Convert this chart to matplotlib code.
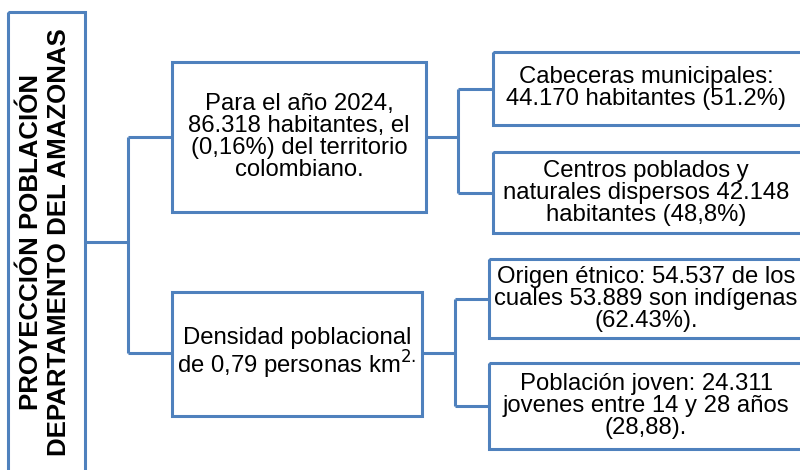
import matplotlib.pyplot as plt
from matplotlib.patches import Rectangle

plt.rcParams['font.family'] = ['Liberation Sans', 'DejaVu Sans']

title_lines = ["PROYECCIÓN POBLACIÓN", "DEPARTAMENTO DEL AMAZONAS"]
mid_texts = [
    "Para el año 2024,\n86.318 habitantes, el\n(0,16%) del territorio\ncolombiano.",
    "Densidad poblacional\nde 0,79 personas km$^{2.}$",
]
right_texts = [
    "Cabeceras municipales:\n44.170 habitantes (51.2%)",
    "Centros poblados y\nnaturales dispersos 42.148\nhabitantes (48,8%)",
    "Origen étnico: 54.537 de los\ncuales 53.889 son indígenas\n(62.43%).",
    "Población joven: 24.311\njovenes entre 14 y 28 años\n(28,88).",
]

# layout in pixels (x0, y0, x1, y1)
mid_boxes = [(172, 62, 426, 212), (172, 292, 422, 416)]
right_boxes = [(493, 52, 812, 125), (493, 152, 812, 233),
               (489, 259, 812, 338), (489, 363, 812, 449)]
right_trunk_x = [458, 455]
mid_cy = [137, 353]

edge = '#4F81BD'
lw = 2.2
fs = 17.2

fig = plt.figure(figsize=(8, 4.7), dpi=100)
ax = fig.add_axes([0, 0, 1, 1])
ax.set_xlim(0, 800)
ax.set_ylim(470, 0)
ax.axis('off')


def box(x0, y0, x1, y1):
    ax.add_patch(Rectangle((x0, y0), x1 - x0, y1 - y0, fill=False,
                           edgecolor=edge, linewidth=lw))


def line(xs, ys):
    ax.plot(xs, ys, color=edge, linewidth=lw, solid_capstyle='butt')


# title box
box(8, 12, 85, 480)
ax.text(31, 242, title_lines[0], rotation=90, ha='center', va='center',
        fontsize=18.6, fontweight='bold')
ax.text(59, 242, title_lines[1], rotation=90, ha='center', va='center',
        fontsize=18.6, fontweight='bold')

# first level connectors
line([85, 128], [242, 242])
line([128, 128], mid_cy)
for cy in mid_cy:
    line([128, 172], [cy, cy])

for b, t in zip(mid_boxes, mid_texts):
    box(*b)
    ax.text((b[0] + b[2]) / 2, (b[1] + b[3]) / 2, t, ha='center',
            va='center', fontsize=fs, linespacing=1.0)

# second level
for i, (b_mid, cy) in enumerate(zip(mid_boxes, mid_cy)):
    tx = right_trunk_x[i]
    kids = right_boxes[2 * i:2 * i + 2]
    kid_cy = [(k[1] + k[3]) / 2 for k in kids]
    line([b_mid[2], tx], [cy, cy])
    line([tx, tx], kid_cy)
    for k, kcy in zip(kids, kid_cy):
        line([tx, k[0]], [kcy, kcy])

for b, t in zip(right_boxes, right_texts):
    box(*b)
    ax.text(646, (b[1] + b[3]) / 2, t, ha='center', va='center',
            fontsize=fs, linespacing=1.0)

fig.savefig('out.png', dpi=100)
